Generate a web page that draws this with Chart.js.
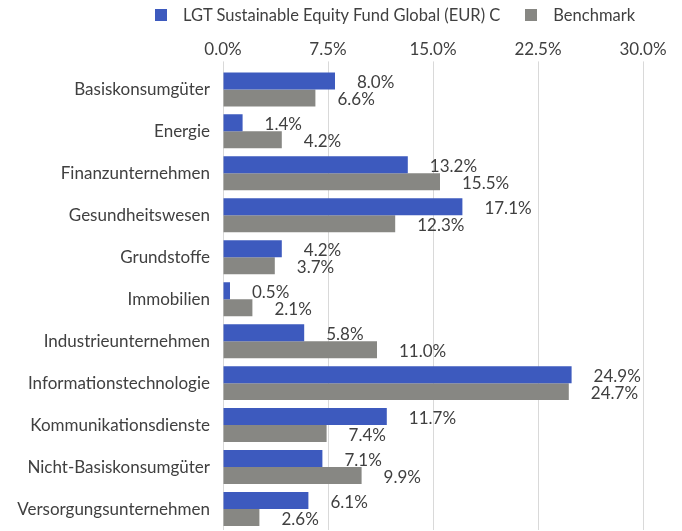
<!DOCTYPE html>
<html>
<head>
<meta charset="utf-8">
<script src="https://cdn.jsdelivr.net/npm/chart.js@4.4.1/dist/chart.umd.min.js"></script>
<style>
  html, body { margin: 0; padding: 0; background: #fff; overflow: hidden; }
  #wrap { position: relative; width: 682px; height: 531px; }
  #legend { position: absolute; top: 5px; left: 155px; font: 16.5px Lato, sans-serif; color: #404040; white-space: nowrap; }
  #legend span.box { display: inline-block; width: 12px; height: 12px; margin-right: 16px; }
  #legend span.item { margin-right: 25px; }
</style>
</head>
<body>
<div id="wrap">
  <canvas id="barChart" width="682" height="531"></canvas>
  <div id="legend"></div>
</div>
<script>
const categories = ['Basiskonsumgüter', 'Energie', 'Finanzunternehmen', 'Gesundheitswesen', 'Grundstoffe',
  'Immobilien', 'Industrieunternehmen', 'Informationstechnologie', 'Kommunikationsdienste',
  'Nicht-Basiskonsumgüter', 'Versorgungsunternehmen'];
const fundValues = [8.0, 1.4, 13.2, 17.1, 4.2, 0.5, 5.8, 24.9, 11.7, 7.1, 6.1];
const benchmarkValues = [6.6, 4.2, 15.5, 12.3, 3.7, 2.1, 11.0, 24.7, 7.4, 9.9, 2.6];
const seriesNames = ['LGT Sustainable Equity Fund Global (EUR) C', 'Benchmark'];
const seriesColors = ['#3d5abe', '#878783'];

const fontFamily = 'Lato, sans-serif';
const textColor = '#404040';

// legend as html so it can sit off-centre like the original
const legendEl = document.getElementById('legend');
seriesNames.forEach((name, i) => {
  legendEl.innerHTML += '<span class="item"><span class="box" style="background:' + seriesColors[i] + '"></span>' + name + '</span>';
});

// values printed right of each bar
const barLabels = {
  id: 'barLabels',
  afterDatasetsDraw(chart) {
    const c = chart.ctx;
    c.save();
    c.font = '17px ' + fontFamily;
    c.fillStyle = textColor;
    c.textAlign = 'left';
    c.textBaseline = 'middle';
    chart.data.datasets.forEach((ds, di) => {
      chart.getDatasetMeta(di).data.forEach((bar, i) => {
        c.fillText(ds.data[i].toFixed(1) + '%', bar.x + 22, bar.y + 2);
      });
    });
    c.restore();
  }
};

const ctx = document.getElementById('barChart').getContext('2d');
const myBarChart = new Chart(ctx, {
  type: 'bar',
  data: {
    labels: categories,
    datasets: [
      { label: seriesNames[0], data: fundValues, backgroundColor: seriesColors[0] },
      { label: seriesNames[1], data: benchmarkValues, backgroundColor: seriesColors[1] }
    ]
  },
  options: {
    indexAxis: 'y',
    responsive: false,
    animation: false,
    maintainAspectRatio: false,
    categoryPercentage: 0.81,
    barPercentage: 1,
    layout: { padding: { top: 37, right: 39, bottom: 1, left: 0 } },
    plugins: {
      legend: { display: false },
      tooltip: { enabled: false }
    },
    scales: {
      x: {
        position: 'top',
        min: 0,
        max: 30,
        ticks: {
          stepSize: 7.5,
          color: textColor,
          font: { family: fontFamily, size: 17, lineHeight: 1.2 },
          padding: 2,
          callback: v => v.toFixed(1) + '%'
        },
        grid: { color: '#d9d9d9', tickLength: 7, tickColor: '#d9d9d9' },
        border: { display: false }
      },
      y: {
        ticks: {
          color: textColor,
          font: { family: fontFamily, size: 17 },
          padding: 5
        },
        grid: { display: false },
        border: { display: false },
        afterFit: scale => {
          scale.width = 223;
          scale.paddingTop = 0;
          scale.paddingBottom = 0;
        }
      }
    }
  },
  plugins: [barLabels]
});
</script>
</body>
</html>
